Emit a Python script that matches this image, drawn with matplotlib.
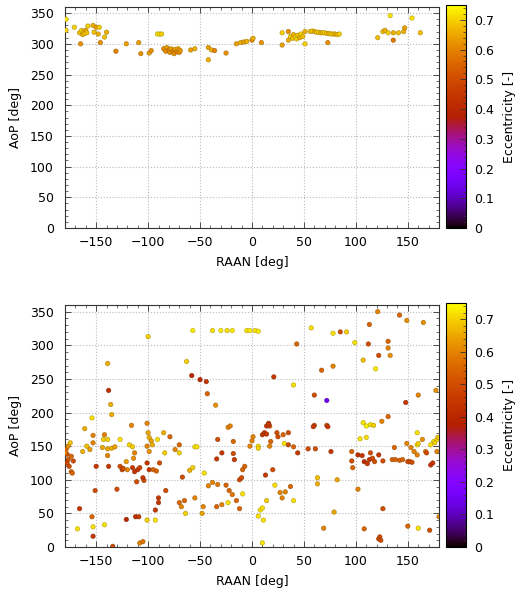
import numpy as np
import matplotlib
matplotlib.use("Agg")
import matplotlib.pyplot as plt
from matplotlib.ticker import MultipleLocator

plt.rcParams['font.family'] = ['DejaVu Sans']
plt.rcParams['font.size'] = 9

# ---------------- upper panel ----------------
raan_a = [-179, -179, -171, -166, -164, -163, -162, -161, -160, -159, -165,
          -158, -153, -150, -147, -152, -148, -146, -142, -140,
          -131, -121, -109, -107, -99, -97, -91, -89, -87,
          -85, -83, -82, -80, -79, -78, -76, -75, -74, -72, -71, -70, -69,
          -59, -55, -42, -39, -36, -42, -25,
          -15, -11, -8, -5, 0, 1, 9,
          29, 29, 35, 35, 37, 39, 40, 42, 43, 44, 46, 47, 49, 51, 51,
          56, 58, 60, 62, 64, 66, 68, 70, 72, 74, 76, 78, 80, 82, 84, 73,
          121, 126, 128, 131, 136, 136, 141, 146, 147, 133, 154, 162]
aop_a = [340, 322, 327, 318, 322, 315, 320, 317, 322, 318, 300,
         329, 330, 327, 327, 319, 316, 302, 311, 319,
         288, 300, 302, 284, 285, 289, 316, 316, 316,
         292, 288, 294, 290, 286, 292, 288, 284, 291, 287, 292, 286, 289,
         290, 292, 294, 290, 289, 274, 285,
         300, 302, 303, 304, 306, 309, 302,
         298, 318, 320, 306, 312, 309, 315, 311, 308, 314, 310, 316, 312, 300, 320,
         320, 321, 320, 319, 319, 318, 318, 318, 317, 317, 316, 316, 316, 315, 316, 302,
         310, 320, 322, 318, 306, 318, 318, 320, 326, 346, 342, 318]
ecc_a = [0.72, 0.70, 0.70, 0.68, 0.70, 0.66, 0.68, 0.70, 0.65, 0.68, 0.62,
         0.70, 0.66, 0.64, 0.70, 0.68, 0.66, 0.62, 0.68, 0.66,
         0.60, 0.64, 0.64, 0.62, 0.64, 0.62, 0.72, 0.72, 0.70,
         0.62, 0.62, 0.64, 0.60, 0.62, 0.64, 0.60, 0.62, 0.63, 0.60, 0.64, 0.62, 0.63,
         0.64, 0.66, 0.64, 0.66, 0.60, 0.66, 0.62,
         0.64, 0.66, 0.64, 0.66, 0.62, 0.66, 0.62,
         0.64, 0.70, 0.62, 0.66, 0.70, 0.68, 0.66, 0.72, 0.70, 0.68, 0.66, 0.70, 0.68, 0.70, 0.66,
         0.68, 0.70, 0.66, 0.68, 0.70, 0.66, 0.68, 0.70, 0.68, 0.66, 0.70, 0.68, 0.66, 0.68, 0.70, 0.62,
         0.68, 0.68, 0.66, 0.70, 0.58, 0.66, 0.68, 0.66, 0.64, 0.72, 0.72, 0.68]

# ---------------- lower panel ----------------
raan_b = [-100, -57, -38, -30, -24, -19, -5, -2, 3, 6,
          -139, -63, -58, -50, -44, -43, -35, -138, -136, -135, -154,
          43, 57, 78, 85, 91, 121, 142, 149, 165, 113,
          99, 112, 131, 131, 133, 122, 107, 119,
          67, 78, 21, 40, 60, 72, 148, 160, 177,
          107, 110, 114, 117, 125, 131, 16, 17, 60, 72,
          -179, -178, -177, -178, -176, -174, -172, -174, -177, -175, -180,
          -173, -166, -161, -163, -159, -156, -153, -153, -150, -151, -154, -153, -168, -153,
          -142, -143, -139, -144, -139, -135, -132, -139, -138, -127, -130, -142,
          -127, -125, -124, -121, -120, -115, -113, -110, -108,
          -116, -118, -115, -113, -114, -111, -104,
          -101, -100, -99, -97, -96, -101, -99,
          -101, -99, -95, -92, -105, -89, -91,
          -90, -90, -93, -83, -85, -79, -84,
          -121, -112, -109, -101, -93, -108, -105, -134,
          -74, -70, -70, -67, -70, -65, -68, -64,
          -60, -57, -55, -55, -53,
          -48, -47, -46, -42, -38, -33, -33, -34, -29,
          -23, -21, -18, -18, -34, -25, -22, -19, -29, -23, -15, -12,
          -12, -10, -9, -9, -7, -17,
          -2, 0, 1, 6, 6, 10, 12, 14, 14, 16, 18, 17,
          24, 25, 30, 31, 35, 35, 40, 44, 54, 61, 76, 59, 73,
          13, 20, 22, 27, 32, 37, 29, 40, 14,
          8, 10, 6, 11, 10,
          63, 63, 82, 79, 69,
          96, 96, 97, 102, 102, 106, 108, 111, 113,
          104, 110, 114, 116, 118, 122, 126,
          108, 126, 122, 123, 124,
          135, 138, 142, 145, 137,
          150, 152, 154, 149, 153, 156, 159,
          159, 159, 160, 164, 167, 168,
          172, 175, 178, 176, 179, 172, 174, 178,
          150, 160, 171, 180]
aop_b = [313, 322, 322, 322, 322, 322, 322, 322, 322, 321,
         273, 276, 255, 249, 246, 228, 211, 233, 212, 197, 192,
         302, 326, 318, 320, 320, 350, 345, 337, 334, 331,
         304, 302, 306, 296, 285, 285, 278, 265,
         263, 269, 253, 241, 226, 218, 215, 226, 233,
         185, 180, 182, 181, 187, 194, 184, 180, 181, 181,
         145, 138, 130, 125, 120, 135, 128, 112, 150, 155, 140,
         110, 57, 176, 142, 150, 145, 166, 155, 120, 84, 45, 30, 27, 16,
         167, 160, 160, 148, 146, 147, 149, 136, 120, 160, 86, 33,
         120, 115, 117, 127, 115, 118, 112, 115, 118,
         181, 152, 149, 140, 132, 97, 99,
         184, 170, 163, 158, 152, 150, 142,
         125, 115, 115, 113, 103, 125, 160,
         73, 66, 55, 84, 170, 164, 140,
         41, 45, 45, 40, 40, 6, 8, 1,
         145, 152, 140, 104, 66, 69, 60, 50,
         114, 118, 73, 149, 149,
         50, 60, 110, 91, 96, 93, 160, 131, 140,
         178, 180, 157, 139, 60, 92, 84, 78, 63, 66, 69, 57,
         100, 103, 79, 115, 120, 130,
         150, 158, 164, 150, 147, 167, 170, 168, 180, 183, 157, 150,
         170, 164, 167, 154, 170, 152, 149, 140, 146, 146, 142, 179, 179,
         107, 115, 92, 81, 82, 90, 73, 69, 69,
         55, 58, 46, 40, 6,
         103, 94, 100, 52, 28,
         142, 128, 118, 86, 137, 136, 127, 124, 130,
         161, 163, 140, 132, 127, 137, 128,
         27, 57, 12, 15, 10,
         130, 130, 129, 130, 148,
         127, 127, 126, 154, 148, 142, 137,
         170, 152, 154, 160, 142, 140,
         152, 157, 160, 155, 163, 122, 125, 142,
         31, 28, 25, 45]
ecc_b = [0.70, 0.73, 0.72, 0.73, 0.72, 0.73, 0.72, 0.73, 0.72, 0.73,
         0.66, 0.70, 0.40, 0.40, 0.45, 0.55, 0.62, 0.42, 0.66, 0.66, 0.72,
         0.55, 0.72, 0.72, 0.50, 0.70, 0.60, 0.55, 0.62, 0.62, 0.55,
         0.72, 0.50, 0.55, 0.60, 0.62, 0.50, 0.68, 0.73,
         0.55, 0.60, 0.45, 0.72, 0.50, 0.15, 0.45, 0.60, 0.62,
         0.72, 0.73, 0.72, 0.70, 0.60, 0.55, 0.50, 0.50, 0.50, 0.50,
         0.55, 0.50, 0.52, 0.50, 0.50, 0.55, 0.50, 0.55, 0.62, 0.68, 0.60,
         0.55, 0.45, 0.66, 0.66, 0.68, 0.64, 0.60, 0.60, 0.45, 0.50, 0.55, 0.72, 0.72, 0.45,
         0.60, 0.70, 0.70, 0.65, 0.65, 0.66, 0.64, 0.60, 0.45, 0.72, 0.50, 0.72,
         0.50, 0.48, 0.50, 0.64, 0.60, 0.45, 0.45, 0.45, 0.48,
         0.60, 0.70, 0.70, 0.60, 0.62, 0.50, 0.50,
         0.60, 0.65, 0.66, 0.64, 0.66, 0.60, 0.62,
         0.45, 0.45, 0.55, 0.55, 0.45, 0.50, 0.72,
         0.45, 0.45, 0.45, 0.50, 0.66, 0.55, 0.70,
         0.40, 0.42, 0.45, 0.70, 0.72, 0.60, 0.58, 0.50,
         0.60, 0.55, 0.70, 0.50, 0.55, 0.55, 0.60, 0.70,
         0.66, 0.70, 0.60, 0.72, 0.72,
         0.65, 0.60, 0.72, 0.60, 0.60, 0.58, 0.50, 0.45, 0.45,
         0.60, 0.60, 0.55, 0.50, 0.55, 0.55, 0.55, 0.58, 0.60, 0.72, 0.55, 0.55,
         0.50, 0.50, 0.72, 0.55, 0.55, 0.45,
         0.60, 0.60, 0.60, 0.72, 0.70, 0.45, 0.45, 0.45, 0.45, 0.45, 0.55, 0.60,
         0.50, 0.50, 0.55, 0.72, 0.50, 0.50, 0.55, 0.45, 0.50, 0.50, 0.45, 0.45, 0.45,
         0.45, 0.50, 0.72, 0.60, 0.60, 0.55, 0.60, 0.72, 0.70,
         0.72, 0.72, 0.72, 0.72, 0.72,
         0.68, 0.66, 0.65, 0.65, 0.60,
         0.55, 0.50, 0.55, 0.60, 0.42, 0.45, 0.42, 0.45, 0.45,
         0.72, 0.72, 0.50, 0.50, 0.50, 0.45, 0.50,
         0.55, 0.50, 0.50, 0.50, 0.50,
         0.55, 0.55, 0.55, 0.55, 0.55,
         0.50, 0.50, 0.50, 0.60, 0.60, 0.60, 0.60,
         0.72, 0.72, 0.70, 0.62, 0.60, 0.50,
         0.72, 0.72, 0.72, 0.70, 0.68, 0.45, 0.45, 0.60,
         0.55, 0.72, 0.50, 0.60]

x_ticks = [-150, -100, -50, 0, 50, 100, 150]
y_ticks = [0, 50, 100, 150, 200, 250, 300, 350]
cb_ticks = [0, 0.1, 0.2, 0.3, 0.4, 0.5, 0.6, 0.7]

cmap = plt.get_cmap('gnuplot')
norm = matplotlib.colors.Normalize(vmin=0, vmax=0.75)

fig = plt.figure(figsize=(5.2, 6.0), dpi=100)

W, H = 520.0, 600.0
panels = [
    (raan_a, aop_a, ecc_a, 7, 228),
    (raan_b, aop_b, ecc_b, 305, 547),
]

for raan, aop, ecc, top_px, bot_px in panels:
    ax = fig.add_axes([65 / W, 1 - bot_px / H, (439 - 65) / W, (bot_px - top_px) / H])
    cax = fig.add_axes([446 / W, 1 - bot_px / H, 20 / W, (bot_px - top_px + 2) / H])

    face = cmap(norm(np.array(ecc)))
    edge = face.copy()
    edge[:, :3] *= 0.7
    edge[:, 3] = 0.8
    sc = ax.scatter(raan, aop, c=ecc, cmap=cmap, norm=norm, s=10,
                    edgecolors=edge, linewidths=0.5, zorder=3)

    ax.set_xlim(-180, 180)
    ax.set_ylim(0, 360)
    ax.set_xticks(x_ticks)
    ax.set_yticks(y_ticks)
    ax.xaxis.set_minor_locator(MultipleLocator(10))
    ax.yaxis.set_minor_locator(MultipleLocator(10))
    ax.tick_params(which='both', direction='in', top=True, right=True,
                   labelsize=9, color='#333333')
    ax.tick_params(axis='x', pad=6)
    ax.tick_params(axis='y', pad=8)
    ax.tick_params(which='major', length=4, width=0.6)
    ax.tick_params(which='minor', length=2, width=0.5)
    ax.grid(True, which='major', color='#bbbbbb', linestyle=':', linewidth=0.8)
    for sp in ax.spines.values():
        sp.set_linewidth(0.8)
        sp.set_color('#333333')
    ax.set_xlabel('RAAN [deg]', fontsize=9, labelpad=5)
    ax.set_ylabel('AoP [deg]', fontsize=9, labelpad=6)

    cb = fig.colorbar(sc, cax=cax)
    cb.set_ticks(cb_ticks)
    cb.set_ticklabels(['0', '0.1', '0.2', '0.3', '0.4', '0.5', '0.6', '0.7'])
    cax.yaxis.set_minor_locator(MultipleLocator(0.02))
    cax.tick_params(which='both', direction='in', labelsize=9, color='#333333', pad=6)
    cax.tick_params(which='major', length=4, width=0.6)
    cax.tick_params(which='minor', length=2, width=0.5)
    cb.outline.set_linewidth(0.8)
    cb.set_label('Eccentricity [-]', fontsize=9, labelpad=6)

fig.savefig('out.png', dpi=100)
